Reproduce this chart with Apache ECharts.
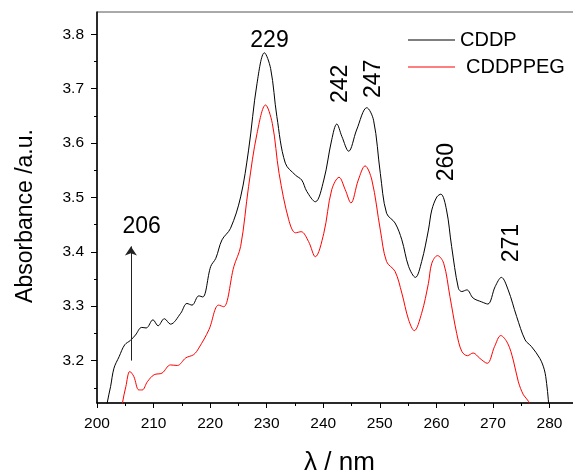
<!DOCTYPE html>
<html><head><meta charset="utf-8">
<script src="https://cdn.jsdelivr.net/npm/echarts@6/dist/echarts.min.js"></script>
<style>html,body{margin:0;padding:0;background:#fff}#c{width:573px;height:470px}</style>
</head><body><div id="c"></div>
<script>
// CDDP (black) spectrum
const cddpX = [201.6,201.8,202.4,203.0,203.9,204.9,205.9,206.8,207.9,208.7,209.9,210.8,211.9,213.0,214.8,215.9,216.8,218.0,218.7,220.1,221.0,222.1,223.6,225.4,226.8,228.3,229.6,230.7,231.8,233.3,235.1,236.2,237.1,238.6,240.1,241.5,242.4,243.3,244.5,245.9,247.7,248.9,250.1,251.2,252.7,253.9,255.1,256.3,257.4,258.6,259.2,260.1,260.8,261.8,262.7,263.9,264.5,265.4,266.5,268.0,269.1,270.4,271.5,272.7,274.2,275.7,276.8,278.3,279.1,279.5,279.8,280.0];
const cddpY = [3.100,3.122,3.152,3.186,3.207,3.229,3.237,3.247,3.261,3.260,3.275,3.264,3.277,3.267,3.287,3.305,3.302,3.319,3.317,3.373,3.388,3.422,3.443,3.501,3.587,3.710,3.766,3.737,3.649,3.563,3.541,3.532,3.511,3.492,3.532,3.606,3.635,3.612,3.585,3.624,3.665,3.642,3.544,3.471,3.453,3.422,3.373,3.353,3.382,3.440,3.477,3.501,3.506,3.477,3.410,3.333,3.327,3.330,3.315,3.308,3.304,3.336,3.353,3.330,3.281,3.238,3.226,3.204,3.183,3.158,3.128,3.100];
// CDDPPEG (red) spectrum
const pegX = [204.3,204.5,205.1,205.8,206.5,207.4,208.0,208.9,210.1,211.5,213.0,214.2,215.7,217.1,218.0,219.8,221.5,222.4,224.2,225.4,226.8,228.3,229.8,231.0,232.2,233.9,235.1,236.1,237.4,238.6,240.1,241.5,242.8,243.9,244.9,246.2,247.4,248.6,250.1,251.2,252.7,253.9,255.1,256.1,257.4,258.6,259.2,260.2,261.3,262.4,263.6,264.5,265.5,266.5,267.7,269.0,270.3,271.4,272.6,273.6,274.5,275.4,276.3,276.7];
const pegY = [3.100,3.122,3.152,3.180,3.171,3.146,3.146,3.161,3.174,3.177,3.192,3.191,3.205,3.211,3.223,3.257,3.302,3.299,3.373,3.410,3.520,3.618,3.670,3.636,3.544,3.459,3.435,3.437,3.419,3.391,3.434,3.514,3.537,3.514,3.490,3.532,3.558,3.532,3.440,3.382,3.364,3.324,3.275,3.255,3.287,3.342,3.379,3.393,3.379,3.318,3.250,3.217,3.209,3.214,3.204,3.195,3.226,3.246,3.232,3.201,3.161,3.137,3.125,3.110];
const seriesNames = ['CDDP','CDDPPEG'];
const yMajorTicks = [3.2,3.3,3.4,3.5,3.6,3.7,3.8];
const yMinorTicks = [3.15,3.25,3.35,3.45,3.55,3.65,3.75];
const peakTexts = ['229','242','247','260','271','206'];
const arrowWavelength = 206;
const arrowRange = [3.2,3.41];

const FONT = 'Liberation Sans, Arial, sans-serif';
const zip = (xs, ys) => xs.map((x, i) => [x, ys[i]]);
const annotPos = [[230.5,3.788,0],[243.1,3.709,90],[248.9,3.718,90],[261.8,3.565,90],[273.3,3.416,90],[207.9,3.446,0]];

const chart = echarts.init(document.getElementById('c'), null, {renderer:'canvas'});
const yBase = {
  type:'value', min:3.122, max:3.841, position:'left',
  splitLine:{show:false}
};
chart.setOption({
  animation:false,
  backgroundColor:'#fff',
  grid:{left:97, right:-33, top:12, bottom:67, show:true, borderColor:'#555', borderWidth:1,
        containLabel:false, outerBoundsMode:'none'},
  legend:[
    {data:['CDDP'], left:403, top:25, icon:'rect', itemWidth:47, itemHeight:1, textStyle:{fontSize:20, fontFamily:FONT, color:'#000'}},
    {data:['CDDPPEG'], left:403, top:52, icon:'rect', itemWidth:47, itemHeight:1, textStyle:{fontSize:20, fontFamily:FONT, color:'#000', padding:[0,0,0,6]}}
  ],
  xAxis:{
    type:'value', min:200, max:290, interval:10,
    name:'λ / nm', nameLocation:'middle', nameGap:47,
    nameTextStyle:{fontSize:26, fontFamily:FONT, color:'#000', padding:[0,24,0,0]},
    axisLine:{show:true, lineStyle:{color:'#000', width:1.5}},
    axisTick:{show:true, inside:false, length:5, lineStyle:{color:'#000', width:1}},
    minorTick:{show:true, splitNumber:2, length:3, lineStyle:{color:'#000', width:1}},
    axisLabel:{fontSize:15.5, fontFamily:FONT, color:'#000', margin:13},
    splitLine:{show:false}
  },
  yAxis:[
    Object.assign({}, yBase, {
      name:'Absorbance /a.u.', nameLocation:'middle', nameGap:60,
      nameTextStyle:{fontSize:23, fontFamily:FONT, color:'#000', padding:[0,17,0,0]},
      axisLine:{show:true, lineStyle:{color:'#000', width:1.5}},
      axisTick:{show:true, inside:false, length:6, customValues:yMajorTicks, lineStyle:{color:'#000', width:1}},
      axisLabel:{customValues:yMajorTicks, fontSize:15.5, fontFamily:FONT, color:'#000', margin:13,
        formatter:v => v.toFixed(1)}
    }),
    Object.assign({}, yBase, {
      axisLine:{show:false},
      axisTick:{show:true, inside:false, length:3, customValues:yMinorTicks, lineStyle:{color:'#000', width:1}},
      axisLabel:{show:false}
    })
  ],
  series:[
    {
      name:seriesNames[0], type:'line', data:zip(cddpX, cddpY), symbol:'none', smooth:0.35,
      lineStyle:{color:'#000', width:1}, itemStyle:{color:'#000'},
      markPoint:{
        symbol:'circle', symbolSize:1, itemStyle:{color:'rgba(0,0,0,0)'},
        label:{show:true, position:'inside', formatter:'{b}', fontSize:23, fontFamily:FONT, color:'#000'},
        data:peakTexts.map((t, i) => ({name:t, coord:[annotPos[i][0], annotPos[i][1]], label:{rotate:annotPos[i][2]}}))
      },
      markLine:{
        silent:true, symbol:['none','arrow'], symbolSize:9,
        lineStyle:{color:'#222', width:1, type:'solid'}, label:{show:false},
        data:[[{coord:[arrowWavelength, arrowRange[0]]},{coord:[arrowWavelength, arrowRange[1]]}]]
      }
    },
    {
      name:seriesNames[1], type:'line', data:zip(pegX, pegY), symbol:'none', smooth:0.35,
      lineStyle:{color:'#ff0000', width:1}, itemStyle:{color:'#ff0000'}
    }
  ]
});
</script></body></html>
